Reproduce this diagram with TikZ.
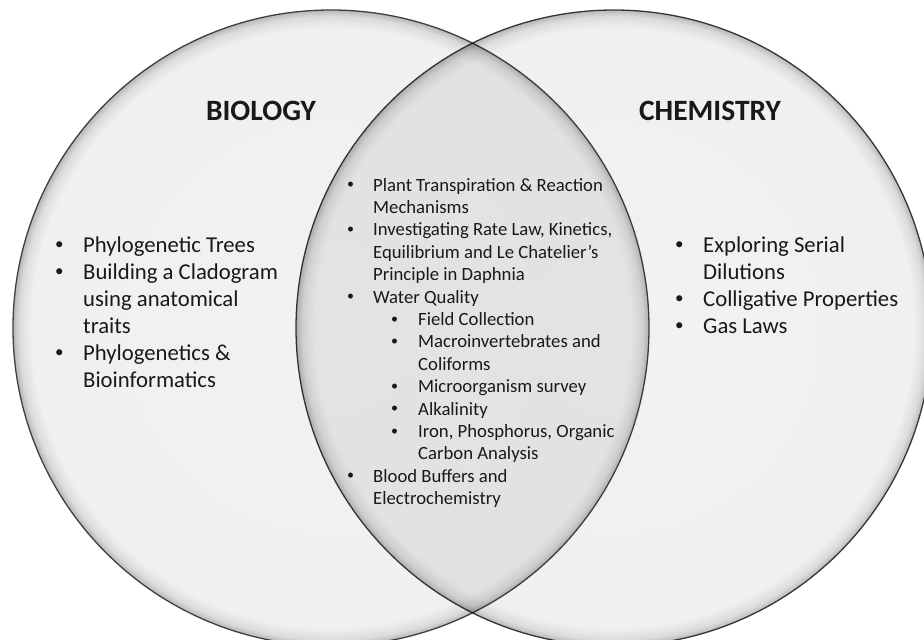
\documentclass[tikz,border=0pt]{standalone}
\usepackage{fontspec}
\setmainfont{Carlito}
\usepackage{tikz}
\usetikzlibrary{positioning}
\definecolor{ring-line}{gray}{0.25}
\definecolor{ink}{gray}{0.1}
\pgfdeclareradialshading{ringfade}{\pgfpoint{0bp}{0bp}}{color(0bp)=(white!95!black); color(23.6bp)=(white!94!black); color(24.5bp)=(white!86!black); color(25bp)=(white!72!black); color(50bp)=(white!72!black)}
\newcommand{\bul}{\raisebox{0.12em}{\scalebox{0.75}{\textbullet}}}
\newcommand{\subbul}{\hspace{18pt}\makebox[27pt][l]{\bul}}
\newcommand{\subgap}{\hspace{45pt}}

\begin{document}
\begin{tikzpicture}[x=1pt, y=-1pt,
  set/.style={circle, minimum size=636pt, inner sep=0pt, shade, shading=ringfade, draw=ring-line, line width=1.3pt},
  title/.style={font=\fontsize{29.5}{35}\selectfont\bfseries, text=ink, anchor=base, inner sep=0pt},
  biglist/.style={font=\fontsize{22.7}{27}\selectfont, text=ink, anchor=base west, inner sep=0pt},
  smalllist/.style={font=\fontsize{18.7}{22.4}\selectfont, text=ink, anchor=base west, inner sep=0pt}]
\path[use as bounding box, fill=white] (0,0) rectangle (924,640);

% the two sets
\node[set] (bio) at (331,328) {};
\begin{scope}[blend mode=multiply]
  \node[set] (chem) at (614,328) {};
\end{scope}

% titles
\node[title] (bioTitle) at (261,120) {BIOLOGY};
\node[title] (chemTitle) at (710,120) {CHEMISTRY};

% biology only
\node[biglist] (bioList) at (55,252) {\begin{tabular}[t]{@{}p{28pt}@{}l@{}}
\bul & Phylogenetic Trees\\
\bul & Building a Cladogram\\
     & using anatomical\\
     & traits\\
\bul & Phylogenetics \&\\
     & Bioinformatics
\end{tabular}};

% chemistry only
\node[biglist] (chemList) at (675,252) {\begin{tabular}[t]{@{}p{28pt}@{}l@{}}
\bul & Exploring Serial\\
     & Dilutions\\
\bul & Colligative Properties\\
\bul & Gas Laws
\end{tabular}};

% both
\node[smalllist] (sharedList) at (347,191) {\begin{tabular}[t]{@{}p{26pt}@{}l@{}}
\bul & Plant Transpiration \& Reaction\\
     & Mechanisms\\
\bul & Investigating Rate Law, Kinetics,\\
     & Equilibrium and Le Chatelier's\\
     & Principle in Daphnia\\
\bul & Water Quality\\
     & \subbul Field Collection\\
     & \subbul Macroinvertebrates and\\
     & \subgap Coliforms\\
     & \subbul Microorganism survey\\
     & \subbul Alkalinity\\
     & \subbul Iron, Phosphorus, Organic\\
     & \subgap Carbon Analysis\\
\bul & Blood Buffers and\\
     & Electrochemistry
\end{tabular}};
\end{tikzpicture}
\end{document}
